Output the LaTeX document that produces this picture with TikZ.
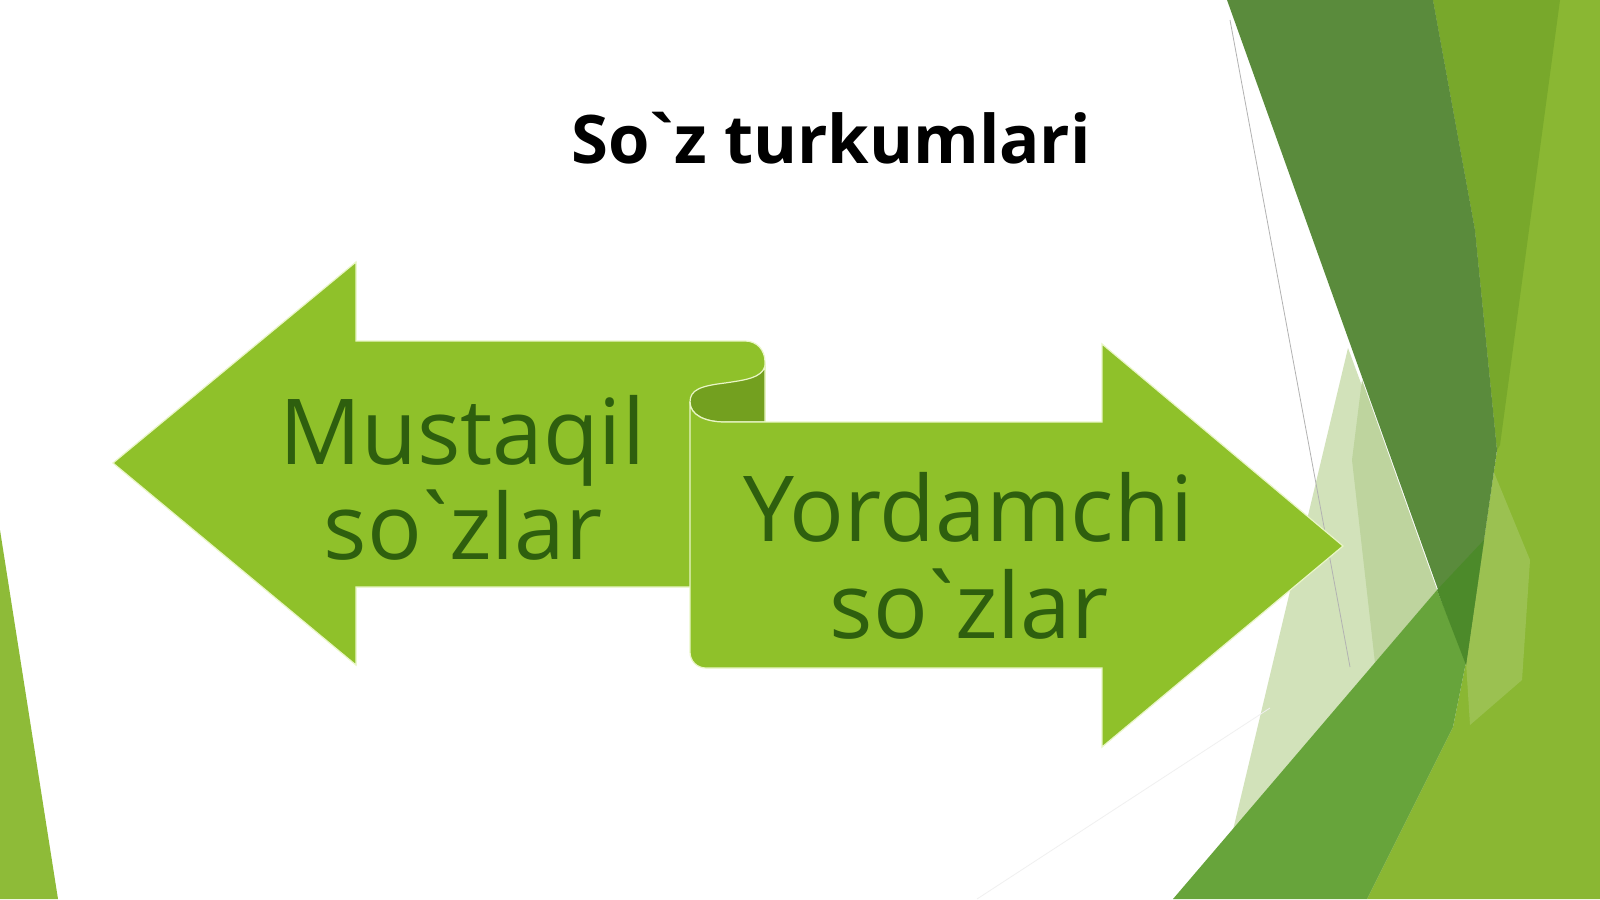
\documentclass[tikz,border=0pt]{standalone}
\usepackage{fontspec}
\newfontfamily\osans{Open Sans}[Ligatures=TeXOff]
\newcommand\grv{\kern-0.14em`\kern-0.14em}
\newcommand\grvt{\kern-0.12em`\kern-0.12em}
\definecolor{arrowgreen}{HTML}{8FC12A}
\definecolor{curldark}{HTML}{73A01F}
\definecolor{edgelight}{HTML}{E9F6C6}
\definecolor{textgreen}{HTML}{2E5F0E}
\definecolor{lightright}{HTML}{8AB733}
\definecolor{olivewedge}{HTML}{78A82B}
\definecolor{darkband}{HTML}{5A8B3C}
\definecolor{paleregion}{HTML}{D2E2BA}
\definecolor{palesdark}{HTML}{BED49E}
\definecolor{midband}{HTML}{67A43B}
\definecolor{darkest}{HTML}{4C8A2A}
\definecolor{leftstrip}{HTML}{8EBB38}
\tikzset{
  arrowshape/.style={fill=arrowgreen, draw=edgelight, line width=1.2pt, line join=miter},
  curlshape/.style={fill=curldark, draw=edgelight, line width=1.2pt},
  bigtext/.style={font=\osans\fontsize{91}{95}\selectfont, text=textgreen, anchor=base, inner sep=0pt},
  titletext/.style={font=\osans\bfseries\fontsize{67}{72}\selectfont, text=black, anchor=base, inner sep=0pt}
}
\begin{document}
\begin{tikzpicture}[x=1pt,y=-1pt]
\useasboundingbox (0,0) rectangle (1600,899);
\fill[white] (0,0) rectangle (1600,899);
% left strip
\fill[leftstrip] (0,530) -- (58,899) -- (0,899) -- cycle;
% right decoration
\fill[lightright] (1433,0) -- (1600,0) -- (1600,899) -- (1367,899) -- (1453,727) -- (1466,662) -- (1497,450) -- (1475,230) -- cycle;
\fill[olivewedge] (1433,0) -- (1560,0) -- (1500,445) -- (1497,450) -- (1475,230) -- cycle;
\fill[white, opacity=0.15] (1493,470) -- (1530,560) -- (1522,680) -- (1470,725) -- (1466,662) -- cycle;
\fill[darkband] (1227,0) -- (1433,0) -- (1475,230) -- (1497,450) -- (1466,665) -- (1440,595) -- cycle;
\fill[paleregion] (1348,348) -- (1233,830) -- (1437,590) -- cycle;
\fill[palesdark] (1362,380) -- (1437,590) -- (1375,663) -- (1352,460) -- cycle;
\fill[midband] (1173,899) -- (1437,590) -- (1466,662) -- (1453,727) -- (1367,899) -- cycle;
\fill[darkest] (1437,590) -- (1484,540) -- (1466,665) -- cycle;
\draw[color=gray!60, line width=0.8pt] (1230,20) -- (1350,667);
\draw[color=gray!12, line width=0.8pt] (977,899) -- (1270,708);
% left arrow
\path[arrowshape] (113,463) -- (356,262) -- (356,341) -- (745,341)
  .. controls (757,341) and (765,350) .. (765,362) -- (765,587) -- (356,587) -- (356,665) -- cycle;
% curl interior
\path[curlshape] (765,366) .. controls (762,378) and (745,380) .. (725,383)
  .. controls (700,386) and (690,390) .. (690,402)
  .. controls (690,415) and (705,422) .. (725,422) -- (765,422) -- cycle;
% right arrow
\path[arrowshape] (690,402) .. controls (690,415) and (705,422) .. (725,422)
  -- (1102,422) -- (1102,344) -- (1343,546) -- (1102,747) -- (1102,668) -- (706,668)
  .. controls (697,668) and (690,661) .. (690,652) -- cycle;
% texts
\node[titletext] (title) at (831,163) {So\grvt z turkumlari};
\node[bigtext] (m1) at (462,464) {Mustaqil};
\node[bigtext] (m2) at (463,559) {so\grv zlar};
\node[bigtext] (y1) at (968,541) {Yordamchi};
\node[bigtext] (y2) at (969,638) {so\grv zlar};
\end{tikzpicture}
\end{document}
